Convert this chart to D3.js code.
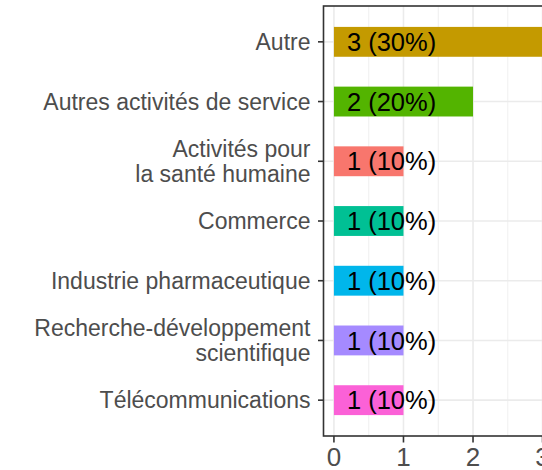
<!DOCTYPE html>
<html>
<head>
<meta charset="utf-8">
<script src="https://cdn.jsdelivr.net/npm/d3@7"></script>
<style>
	body { margin: 0; background: white; }
	text { font-family: "Liberation Sans", Arial, sans-serif; }
</style>
</head>
<body>
<div id="chart"></div>
<script>
const w = 542
const h = 470

// data
const categories = [
	"Autre",
	"Autres activités de service",
	"Activités pour\nla santé humaine",
	"Commerce",
	"Industrie pharmaceutique",
	"Recherche-développement\nscientifique",
	"Télécommunications"
]
const counts = [3, 2, 1, 1, 1, 1, 1]
const percents = [30, 20, 10, 10, 10, 10, 10]
const colors = ["#C49A00", "#53B400", "#F8766D", "#00C094", "#00B6EB", "#A58AFF", "#FB61D7"]
const xTicks = [0, 1, 2, 3]
const xMinor = [0.5, 1.5, 2.5]

const panel = { left: 323.5, top: 6, bottom: 436 }

const svg = d3.select("#chart")
	.append("svg")
	.attr("width", w)
	.attr("height", h)

let xScale = d3.scaleLinear()
	.domain([-0.15, 3.15])
	.range([panel.left, panel.left + 229.5])

let yScale = d3.scalePoint()
	.domain(categories)
	.range([panel.top, panel.bottom])
	.padding(0.6)

const barH = yScale.step() * 0.5

// grid
svg.append("g").selectAll("line")
	.data(xMinor)
	.enter()
	.append("line")
	.attr("x1", d => xScale(d))
	.attr("x2", d => xScale(d))
	.attr("y1", panel.top)
	.attr("y2", panel.bottom)
	.attr("stroke", "#ebebeb")
	.attr("stroke-width", 0.8)

svg.append("g").selectAll("line")
	.data(xTicks)
	.enter()
	.append("line")
	.attr("x1", d => xScale(d))
	.attr("x2", d => xScale(d))
	.attr("y1", panel.top)
	.attr("y2", panel.bottom)
	.attr("stroke", "#ebebeb")
	.attr("stroke-width", 1.6)

svg.append("g").selectAll("line")
	.data(categories)
	.enter()
	.append("line")
	.attr("x1", panel.left)
	.attr("x2", w)
	.attr("y1", d => yScale(d))
	.attr("y2", d => yScale(d))
	.attr("stroke", "#ebebeb")
	.attr("stroke-width", 1.6)

// bars
svg.append("g").selectAll("rect")
	.data(categories)
	.enter()
	.append("rect")
	.attr("x", xScale(0))
	.attr("y", d => yScale(d) - barH / 2)
	.attr("width", (d, i) => xScale(counts[i]) - xScale(0))
	.attr("height", barH)
	.attr("fill", (d, i) => colors[i])

// bar labels
svg.append("g").selectAll("text")
	.data(categories)
	.enter()
	.append("text")
	.attr("x", xScale(0) + 13)
	.attr("y", d => yScale(d))
	.attr("dy", "0.36em")
	.attr("font-size", 25.5)
	.attr("fill", "black")
	.text((d, i) => counts[i] + " (" + percents[i] + "%)")

// panel border (right side falls outside)
svg.append("rect")
	.attr("x", panel.left)
	.attr("y", panel.top)
	.attr("width", 300)
	.attr("height", panel.bottom - panel.top)
	.attr("fill", "none")
	.attr("stroke", "#333333")
	.attr("stroke-width", 1.6)

// y axis
let yAxis = svg.append("g")
yAxis.selectAll("line")
	.data(categories)
	.enter()
	.append("line")
	.attr("x1", panel.left - 5.5)
	.attr("x2", panel.left)
	.attr("y1", d => yScale(d))
	.attr("y2", d => yScale(d))
	.attr("stroke", "#333333")
	.attr("stroke-width", 1.6)

yAxis.selectAll("text")
	.data(categories)
	.enter()
	.append("text")
	.attr("x", panel.left - 13)
	.attr("y", d => yScale(d))
	.attr("text-anchor", "end")
	.attr("font-size", 23)
	.attr("fill", "#4d4d4d")
	.each(function(d) {
		let lines = d.split("\n")
		let el = d3.select(this)
		let lh = 24.5
		lines.forEach((t, j) => {
			el.append("tspan")
				.attr("x", panel.left - 13)
				.attr("y", yScale(d) + 8 + (j - (lines.length - 1) / 2) * lh)
				.text(t)
		})
	})

// x axis
let xAxis = svg.append("g")
xAxis.selectAll("line")
	.data(xTicks)
	.enter()
	.append("line")
	.attr("x1", d => xScale(d))
	.attr("x2", d => xScale(d))
	.attr("y1", panel.bottom)
	.attr("y2", panel.bottom + 6.5)
	.attr("stroke", "#333333")
	.attr("stroke-width", 1.6)

xAxis.selectAll("text")
	.data(xTicks)
	.enter()
	.append("text")
	.attr("x", d => xScale(d))
	.attr("y", panel.bottom + 30)
	.attr("text-anchor", "middle")
	.attr("font-size", 26)
	.attr("fill", "#4d4d4d")
	.text(d => d)
</script>
</body>
</html>
